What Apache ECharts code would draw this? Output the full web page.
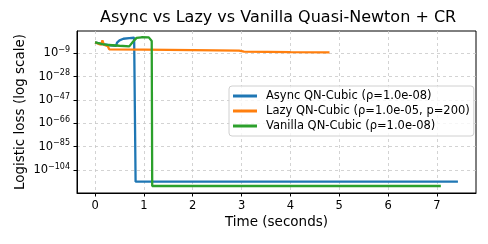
<!DOCTYPE html>
<html>
<head>
<meta charset="utf-8">
<script src="https://cdn.jsdelivr.net/npm/echarts@6/dist/echarts.min.js"></script>
<style>html,body{margin:0;padding:0;background:#fff;}#c{width:488px;height:244px;}</style>
</head>
<body>
<div id="c"></div>
<script>
// Values. Loss values are stored as log10(loss).
const seriesNames = ['Async QN-Cubic (\u03c1=1.0e-08)', 'Lazy QN-Cubic (\u03c1=1.0e-05, p=200)', 'Vanilla QN-Cubic (\u03c1=1.0e-08)'];
const asyncTime  = [0, 0.15, 0.3, 0.43, 0.45, 0.5, 0.58, 0.7, 0.8, 0.82, 0.83, 7.43];
const asyncLog10 = [-0.16, -1.5, -2.5, -3.0, -0.3, 1.5, 2.8, 3.3, 3.6, 3.0, -113.5, -113.5];
const lazyTime   = [0, 0.08, 0.13, 0.15, 0.18, 0.26, 0.29, 1.0, 2.0, 2.95, 3.05, 4.0, 4.8];
const lazyLog10  = [-0.16, -1.5, -2.0, 1.5, -2.0, -3.3, -5.8, -6.0, -6.4, -6.9, -7.7, -8.1, -8.3];
const vanTime    = [0, 0.15, 0.28, 0.5, 0.7, 0.78, 0.85, 0.95, 1.1, 1.14, 1.16, 1.17, 7.08];
const vanLog10   = [-0.16, -1.5, -2.3, -2.9, -3.4, 0.5, 3.5, 4.0, 3.9, 3.0, 1.0, -117, -117];
const xTicks = [0, 1, 2, 3, 4, 5, 6, 7];
const yTicks = [-104, -85, -66, -47, -28, -9];
const colors = ['#1f77b4', '#ff7f0e', '#2ca02c'];

function pairs(t, v) { return t.map((x, i) => [x, v[i]]); }
const FONT = 'DejaVu Sans';
const chart = echarts.init(document.getElementById('c'), null, {renderer: 'canvas'});
const option = {
  backgroundColor: '#fff',
  animation: false,
  textStyle: {fontFamily: FONT},
  title: {
    text: 'Async vs Lazy vs Vanilla Quasi-Newton + CR',
    left: 100, top: 10, padding: 0,
    textStyle: {fontFamily: FONT, fontSize: 16, fontWeight: 'normal', color: '#000'}
  },
  grid: {left: 77, right: 12, top: 31, bottom: 51, show: true, borderColor: '#000', borderWidth: 1, backgroundColor: 'transparent'},
  legend: {
    orient: 'vertical', left: 229, top: 86, padding: [4, 4, 4, 4],
    itemWidth: 24, itemHeight: 3, itemGap: 3, icon: 'rect',
    borderColor: '#d0d0d0', borderWidth: 1, borderRadius: 3, backgroundColor: 'rgba(255,255,255,0.8)',
    textStyle: {fontFamily: FONT, fontSize: 11.5, color: '#000', padding: [0, 0, 0, 4]},
    data: seriesNames
  },
  xAxis: {
    type: 'value', min: -0.37, max: 7.8,
    name: 'Time (seconds)', nameLocation: 'middle', nameGap: 22, nameMoveOverlap: false,
    nameTextStyle: {fontFamily: FONT, fontSize: 13.5, color: '#000'},
    axisLine: {show: true, onZero: false, lineStyle: {color: '#000', width: 1}},
    axisTick: {show: true, inside: false, length: 3.5, lineStyle: {color: '#000'}, customValues: xTicks},
    axisLabel: {fontFamily: FONT, fontSize: 11.5, color: '#000', margin: 7, customValues: xTicks, formatter: v => String(v)},
    splitLine: {show: true, lineStyle: {color: '#c8c8c8', type: [3, 3], width: 0.8}}
  },
  yAxis: {
    type: 'value', min: -122.7, max: 9.1,
    name: 'Logistic loss (log scale)', nameLocation: 'middle', nameGap: 50, nameMoveOverlap: false,
    nameTextStyle: {fontFamily: FONT, fontSize: 13.5, color: '#000'},
    axisLine: {show: true, onZero: false, lineStyle: {color: '#000', width: 1}},
    axisTick: {show: true, inside: false, length: 3.5, lineStyle: {color: '#000'}, customValues: yTicks},
    axisLabel: {
      fontFamily: FONT, fontSize: 11.5, color: '#000', margin: 7, customValues: yTicks,
      formatter: v => '{b|10}{s|\u2212' + Math.abs(Math.round(v)) + '}',
      rich: {
        b: {fontFamily: FONT, fontSize: 11.5, color: '#000'},
        s: {fontFamily: FONT, fontSize: 8, color: '#000', padding: [0, 0, 7, 0]}
      }
    },
    splitLine: {show: true, lineStyle: {color: '#c8c8c8', type: [3, 3], width: 0.8}}
  },
  series: [
    {name: seriesNames[0], type: 'line', data: pairs(asyncTime, asyncLog10), showSymbol: false, symbol: 'none', color: colors[0], lineStyle: {width: 2.3, color: colors[0]}, z: 2},
    {name: seriesNames[1], type: 'line', data: pairs(lazyTime, lazyLog10), showSymbol: false, symbol: 'none', color: colors[1], lineStyle: {width: 2.3, color: colors[1]}, z: 3},
    {name: seriesNames[2], type: 'line', data: pairs(vanTime, vanLog10), showSymbol: false, symbol: 'none', color: colors[2], lineStyle: {width: 2.3, color: colors[2]}, z: 4}
  ]
};
chart.setOption(option);
</script>
</body>
</html>
